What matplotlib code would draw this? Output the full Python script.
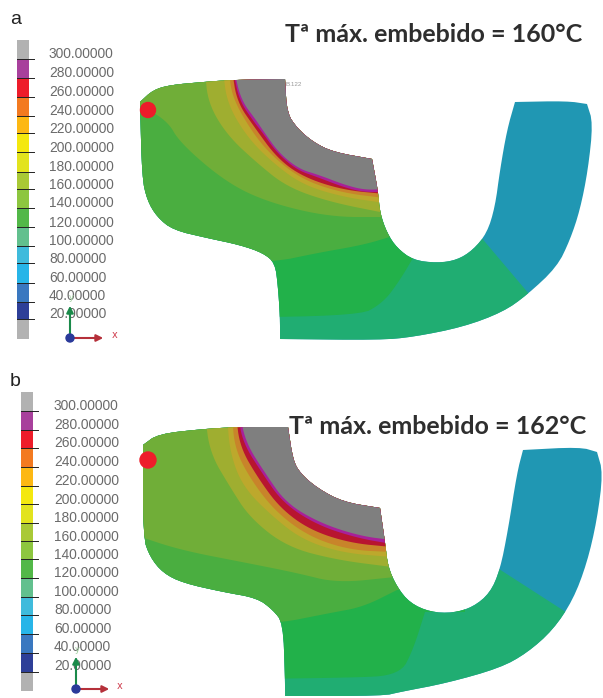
import matplotlib
matplotlib.use("Agg")
import matplotlib.pyplot as plt
from matplotlib.patches import Polygon, Circle

# scale values and colours of the legend bar
bar_labels = ["300.00000", "280.00000", "260.00000", "240.00000", "220.00000",
              "200.00000", "180.00000", "160.00000", "140.00000", "120.00000",
              "100.00000", "80.00000", "60.00000", "40.00000", "20.00000"]
bar_colors = ["#b2b2b2", "#a8409c", "#ee1c2a", "#f37a20", "#fdb813", "#f4e80f", "#e2e31e", "#a9c936",
              "#8dc63f", "#52b848", "#62c08e", "#3fbbdc", "#27b5e8", "#3a78c0", "#2e3f98", "#b2b2b2"]
bar_edges_a = [40, 59, 78, 97, 116, 133, 152, 172, 189, 208, 227, 246, 263, 283, 302, 319, 339]
bar_edges_b = [392, 411, 430, 448, 467, 486, 504, 523, 541, 559, 578, 597, 615, 634, 653, 672, 691]
label_y_a = [54, 73, 92, 111, 129, 148, 167, 185, 203, 223, 241, 259, 278, 296, 314]
label_y_b = [406, 425, 443, 462, 481, 500, 518, 537, 555, 573, 592, 610, 629, 647, 666]

# band colours, coolest first
band_colors = ["#2097b3", "#20ad72", "#22b14a", "#4aae40", "#70ae38", "#9fae30",
               "#bda82c", "#c8842a", "#b81530", "#a8209a", "#7f7f7f"]

# part outlines, picture a (a repeated point keeps its corner sharp)
body_a = [(140, 102), (140, 102), (153, 90), (170, 85), (203, 82), (230, 80), (285, 79), (285, 79), (285, 79),
          (287, 113), (297, 128), (313, 142), (333, 152), (372, 159), (372, 159), (372, 159), (378, 191), (380, 213),
          (387, 233), (397, 248), (413, 260), (437, 263), (457, 260), (473, 250), (487, 233), (495, 207), (500, 170),
          (507, 130), (515, 102), (515, 102), (567, 101), (587, 104), (587, 104), (593, 123), (588, 170), (580, 210),
          (570, 240), (557, 267), (527, 295), (503, 312), (463, 327), (413, 337), (380, 340), (280, 339), (280, 339),
          (280, 339), (280, 317), (278, 287), (275, 263), (263, 253), (240, 245), (207, 238), (173, 230), (157, 217),
          (147, 200), (142, 177)]
teal_a = [(480, 236), (535, 301)]
green_a = [(130, 317), (357, 317), (383, 303), (400, 280), (413, 258)]
mid_a = [(130, 264), (270, 263), (317, 253), (363, 245), (393, 236)]
olive_a = [(135, 103), (167, 120), (180, 143), (227, 183), (270, 203), (330, 217), (385, 217)]
lime_a = [(205, 70), (208, 103), (227, 135), (257, 163), (287, 187), (330, 202), (385, 213)]
gold_a = [(223, 70), (227, 103), (247, 137), (273, 163), (303, 185), (343, 197), (385, 203)]
brown_a = [(229, 70), (232, 97), (252, 132), (273, 157), (303, 180), (343, 193), (385, 198)]
red_a = [(232, 70), (237, 102), (255, 128), (277, 158), (303, 177), (343, 190), (385, 194)]
mag_a = [(233, 70), (239, 100), (254, 122), (262, 132), (277, 153), (297, 170), (317, 177), (343, 187), (363, 192), (385, 192)]
grey_a = [(234, 70), (241, 100), (256, 120), (264, 132), (279, 153), (299, 169), (319, 175), (345, 185), (365, 190), (385, 189)]

# part outlines, picture b
body_b = [(143, 445), (143, 445), (158, 434), (203, 429), (237, 427), (288, 427), (288, 427), (288, 427), (293, 460),
          (300, 473), (317, 488), (343, 502), (380, 508), (380, 508), (380, 508), (385, 542), (388, 567), (397, 587),
          (410, 603), (430, 612), (453, 613), (473, 607), (490, 593), (500, 570), (508, 530), (517, 473), (523, 450),
          (523, 450), (580, 447), (597, 452), (597, 452), (603, 473), (597, 520), (587, 563), (573, 600), (553, 630),
          (527, 653), (500, 668), (447, 683), (400, 692), (383, 696), (285, 696), (285, 696), (285, 696), (285, 677),
          (283, 623), (273, 610), (257, 598), (223, 592), (183, 583), (163, 573), (150, 557), (143, 537)]
teal_b = [(499, 569), (572, 616)]
green_b = [(130, 680), (350, 678), (400, 675), (413, 650), (425, 612)]
mid_b = [(130, 626), (270, 625), (330, 613), (363, 607), (397, 590)]
olive_b = [(135, 535), (180, 550), (247, 563), (297, 573), (337, 583), (395, 577)]
lime_b = [(205, 415), (210, 453), (230, 487), (250, 518), (287, 547), (337, 560), (392, 567)]
gold_b = [(227, 415), (230, 453), (243, 487), (273, 517), (303, 540), (343, 553), (392, 557)]
brown_b = [(232, 415), (235, 450), (253, 483), (277, 513), (310, 537), (350, 550), (392, 552)]
red_b = [(236, 415), (240, 447), (258, 478), (280, 508), (310, 530), (350, 543), (392, 547)]
mag_b = [(238, 415), (243, 443), (262, 473), (283, 503), (317, 525), (357, 538), (392, 544)]
grey_b = [(240, 415), (246, 443), (265, 473), (286, 503), (320, 523), (360, 536), (392, 540)]

fig = plt.figure(figsize=(6.03, 6.98), dpi=100)
ax = fig.add_axes([0, 0, 1, 1])
ax.set_xlim(0, 603)
ax.set_ylim(698, 0)
ax.axis("off")


def round_corners(pts, closed=False, passes=3):
    # corner cutting, only so the outlines are not so angular
    for _ in range(passes):
        out = [] if closed else [pts[0]]
        n = len(pts)
        for i in range(n if closed else n - 1):
            a, b = pts[i], pts[(i + 1) % n]
            out.append((0.75 * a[0] + 0.25 * b[0], 0.75 * a[1] + 0.25 * b[1]))
            out.append((0.25 * a[0] + 0.75 * b[0], 0.25 * a[1] + 0.75 * b[1]))
        if not closed:
            out.append(pts[-1])
        pts = out
    return pts


def draw_bar(edges, label_y, x0, label_x):
    for i, c in enumerate(bar_colors):
        ax.barh((edges[i] + edges[i + 1]) / 2, 12, height=edges[i + 1] - edges[i], left=x0,
                color=c, linewidth=0)
    for e in edges[1:-1]:
        ax.plot([x0, x0 + 17], [e, e], color="#222222", lw=0.7)
    for y, t in zip(label_y, bar_labels):
        ax.text(label_x, y, t, family="Liberation Sans", fontsize=9.9, color="#6a6a6a", va="center", ha="left")


def draw_triad(x, y, xlabel_x):
    ax.annotate("", xy=(x + 36, y), xytext=(x, y), arrowprops=dict(arrowstyle="-|>", color="#b5303a", lw=1.5))
    ax.annotate("", xy=(x, y - 35), xytext=(x, y), arrowprops=dict(arrowstyle="-|>", color="#1a8a4a", lw=1.5))
    ax.add_patch(Circle((x, y), 4, color="#2a3a9a", zorder=3))
    ax.text(xlabel_x, y - 3, "x", color="#d04050", fontsize=7, ha="center", va="center")
    ax.text(x + 1, y - 40, "y", color="#a0d0a0", fontsize=6, ha="center", va="center")


def draw_part(body, lines, top, bottom):
    outline = Polygon(round_corners(body, closed=True, passes=2), closed=True,
                      facecolor=band_colors[0], edgecolor="none")
    ax.add_patch(outline)
    teal = lines[0]
    polys = [teal + [(teal[-1][0], bottom), (130, bottom), (130, top), (teal[0][0], top)]]
    for line in lines[1:]:
        polys.append(round_corners(line) + [(line[-1][0] + 40, line[-1][1]), (line[-1][0] + 40, top), (line[0][0], top)])
    for pts, c in zip(polys, band_colors[1:]):
        p = Polygon(pts, closed=True, facecolor=c, edgecolor="none")
        ax.add_patch(p)
        p.set_clip_path(outline)


draw_bar(bar_edges_a, label_y_a, 17, 49)
draw_bar(bar_edges_b, label_y_b, 21, 54)
draw_triad(70, 338, 115)
draw_triad(76, 689, 120)

draw_part(body_a, [teal_a, green_a, mid_a, olive_a, lime_a, gold_a, brown_a, red_a, mag_a, grey_a], 60, 360)
draw_part(body_b, [teal_b, green_b, mid_b, olive_b, lime_b, gold_b, brown_b, red_b, mag_b, grey_b], 410, 698)

ax.add_patch(Circle((148, 110), 7.5, color="#ee1c2a", zorder=4))
ax.add_patch(Circle((148, 460), 8, color="#ee1c2a", zorder=4))

ax.text(10, 19, "a", family="Liberation Sans", fontsize=14, color="#222222", ha="left", va="center")
ax.text(10, 381, "b", family="Liberation Sans", fontsize=14, color="#222222", ha="left", va="center")
ax.text(286, 85, "B.122", family="Liberation Sans", fontsize=4.5, color="#999999", ha="left", va="center")

ax.text(434, 34, "Tª máx. embebido = 160°C", family="Lato", fontweight="bold", fontsize=18,
        color="#2e2e2e", ha="center", va="center")
ax.text(438, 427, "Tª máx. embebido = 162°C", family="Lato", fontweight="bold", fontsize=18,
        color="#2e2e2e", ha="center", va="center")

fig.savefig("out.png", dpi=100)
